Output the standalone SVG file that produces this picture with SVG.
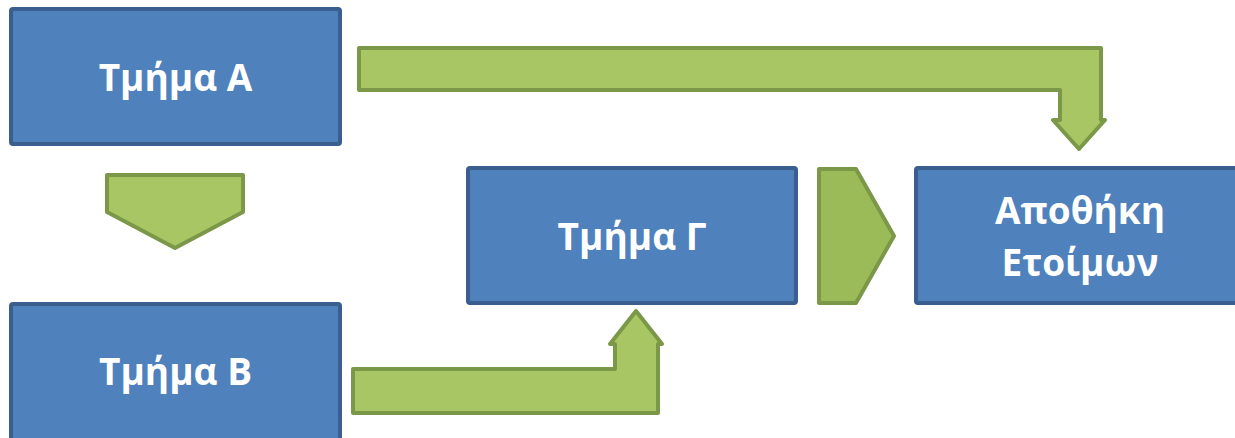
<svg xmlns="http://www.w3.org/2000/svg" width="1235" height="438" viewBox="0 0 1235 438">
<style>
.box{fill:#4f81bd;stroke:#3a5f8e;stroke-width:4}
.arr{fill:#a8c664;stroke:#7a9847;stroke-width:4;stroke-linejoin:round}
.chev{fill:#9bbb59;stroke:#7a9847;stroke-width:4;stroke-linejoin:round}
.lbl{font-family:"Open Sans","Noto Sans","DejaVu Sans",sans-serif;font-weight:bold;font-size:37px;fill:#ffffff;text-anchor:middle}
</style>
<rect width="1235" height="438" fill="#ffffff"/>
<g id="connectors">
<path class="arr" d="M107 175 H243 V212 L175 248 L107 212 Z"/>
<path class="arr" d="M359 48 H1101 V120 H1105 L1079 149 L1053 120 H1060 V90 H359 Z"/>
<path class="arr" d="M353 369 H615 V344 H610 L636 311 L662 344 H658 V413 H353 Z"/>
<path class="chev" d="M819 169 H856 L894 236 L856 303 H819 Z"/>
</g>
<g id="nodeA">
<rect class="box" x="11" y="9" width="329" height="135" rx="2"/>
<text class="lbl" x="175.5" y="91">Τμήμα Α</text>
</g>
<g id="nodeB">
<rect class="box" x="11" y="304" width="329" height="150" rx="2"/>
<text class="lbl" x="175.5" y="385">Τμήμα Β</text>
</g>
<g id="nodeC">
<rect class="box" x="468" y="168" width="328" height="135" rx="2"/>
<text class="lbl" x="632" y="250">Τμήμα Γ</text>
</g>
<g id="nodeD">
<rect class="box" x="916" y="168" width="330" height="135" rx="2"/>
<text class="lbl" x="1080" y="224">Αποθήκη</text>
<text class="lbl" x="1080" y="276">Ετοίμων</text>
</g>
</svg>
